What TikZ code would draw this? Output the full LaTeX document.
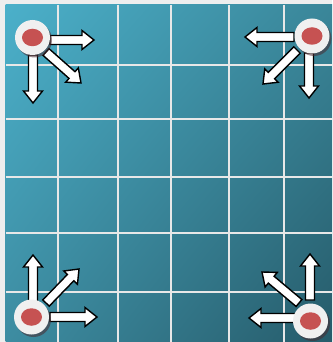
\documentclass[tikz,border=0pt]{standalone}
\usetikzlibrary{calc,shadings,shapes.geometric}
\definecolor{bgmargin}{HTML}{EEEEEE}
\definecolor{tl}{HTML}{4BB0CA}
\definecolor{tr}{HTML}{3A8699}
\definecolor{bl}{HTML}{3D8CA1}
\definecolor{br}{HTML}{265B6A}
\definecolor{gridc}{HTML}{E8E8E8}
\definecolor{diskc}{HTML}{F0F0F0}
\definecolor{dotc}{HTML}{C65252}
\definecolor{shadowc}{HTML}{4A2A30}
\tikzset{
  gridline/.style={draw=gridc, line width=2.5pt},
  barrow/.style={fill=white, draw=black, line width=1.4pt, line join=miter},
  diskshadow/.style={circle, fill=shadowc, opacity=0.55, minimum size=35pt, inner sep=0pt},
  disk/.style={circle, fill=diskc, minimum size=35pt, inner sep=0pt},
  dot/.style={ellipse, fill=dotc, minimum width=21pt, minimum height=17.5pt, inner sep=0pt},
}
\newcommand{\blockarrow}[2]{%
  \path ($(#2)!12pt!(#1)$) coordinate (h);
  \draw[barrow] ($(#1)!4.5pt!90:(#2)$) -- ($(h)!4.5pt!90:(#2)$) -- ($(h)!9.5pt!90:(#2)$) -- (#2)
    -- ($(h)!9.5pt!-90:(#2)$) -- ($(h)!4.5pt!-90:(#2)$) -- ($(#1)!4.5pt!-90:(#2)$) -- cycle;
}
\newcommand{\puck}[3]{%
  \node[diskshadow] at (#2+2,#3+2.5) {};
  \node[disk] (#1) at (#2,#3) {};
  \node[dot] at (#2,#3) {};
}
\begin{document}
\begin{tikzpicture}[x=1pt,y=-1pt]
\useasboundingbox (0,0) rectangle (332,342);
\fill[bgmargin] (0,0) rectangle (332,342);
\shade[upper left=tl, upper right=tr, lower left=bl, lower right=br] (5.5,5) rectangle (332,342);
% grid
\foreach \x in {58,118,171,229,284} \draw[gridline] (\x,5) -- (\x,342);
\foreach \y in {65,119,177,233,292} \draw[gridline] (5.5,\y) -- (332,\y);
% top-left
\coordinate (a1s) at (50,40);  \coordinate (a1t) at (94,40);
\coordinate (a2s) at (33,55);  \coordinate (a2t) at (33,103);
\coordinate (a3s) at (46,52);  \coordinate (a3t) at (81,83);
% top-right
\coordinate (b1s) at (294,37); \coordinate (b1t) at (245,37);
\coordinate (b2s) at (297,50); \coordinate (b2t) at (263,84);
\coordinate (b3s) at (309,53); \coordinate (b3t) at (309,98);
% bottom-left
\coordinate (c1s) at (33,302); \coordinate (c1t) at (33,255);
\coordinate (c2s) at (46,303); \coordinate (c2t) at (79,269);
\coordinate (c3s) at (50,317); \coordinate (c3t) at (97,317);
% bottom-right
\coordinate (d1s) at (310,300); \coordinate (d1t) at (310,254);
\coordinate (d2s) at (299,303); \coordinate (d2t) at (262,272);
\coordinate (d3s) at (297,318); \coordinate (d3t) at (249,318);
\blockarrow{a1s}{a1t}\blockarrow{a2s}{a2t}\blockarrow{a3s}{a3t}
\blockarrow{b1s}{b1t}\blockarrow{b2s}{b2t}\blockarrow{b3s}{b3t}
\blockarrow{c1s}{c1t}\blockarrow{c2s}{c2t}\blockarrow{c3s}{c3t}
\blockarrow{d1s}{d1t}\blockarrow{d2s}{d2t}\blockarrow{d3s}{d3t}
\puck{p1}{32.5}{37.5}
\puck{p2}{312}{36}
\puck{p3}{31.5}{317}
\puck{p4}{310.5}{321}
\end{tikzpicture}
\end{document}
